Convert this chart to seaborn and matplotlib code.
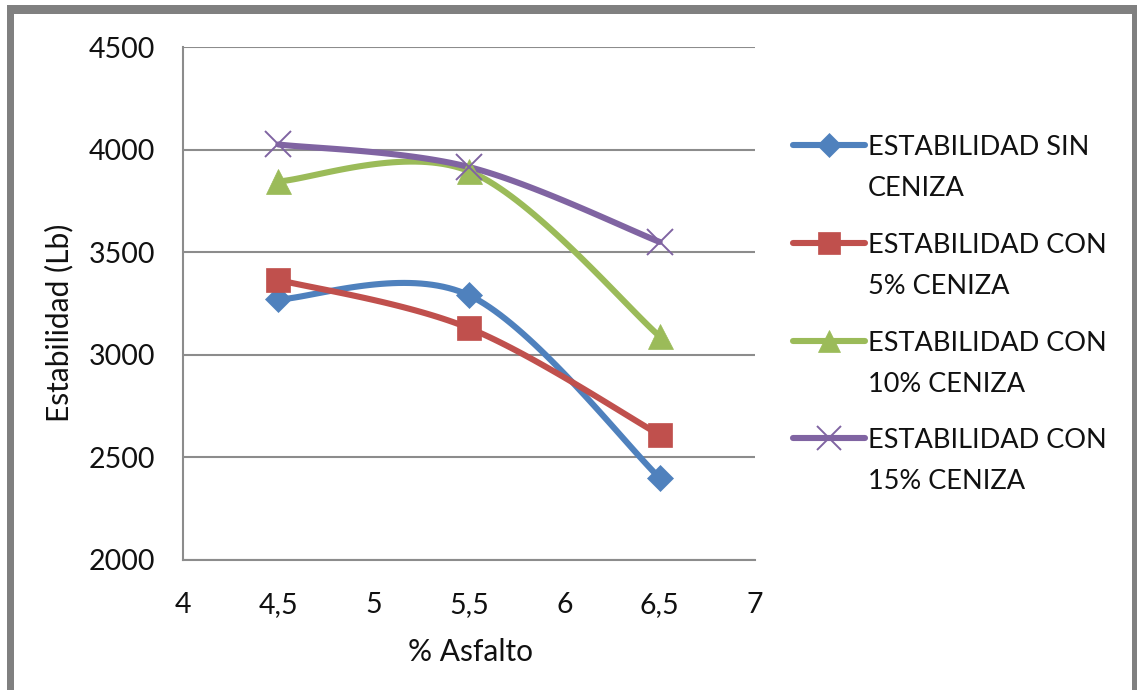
import numpy as np
import pandas as pd
import seaborn as sns
import matplotlib
matplotlib.use("Agg")
import matplotlib.pyplot as plt
from matplotlib.lines import Line2D
from matplotlib.patches import Rectangle

# Asphalt content (%) and Marshall stability (Lb) per ash content
asfalto = [4.5, 5.5, 6.5]
sin_ceniza = [3270, 3290, 2400]
con_5 = [3365, 3130, 2610]
con_10 = [3845, 3895, 3090]
con_15 = [4025, 3915, 3550]

series_names = ["ESTABILIDAD SIN\nCENIZA", "ESTABILIDAD CON\n5% CENIZA",
                "ESTABILIDAD CON\n10% CENIZA", "ESTABILIDAD CON\n15% CENIZA"]
series_values = [sin_ceniza, con_5, con_10, con_15]
colors = ["#4F81BD", "#C0504D", "#9BBB59", "#8064A2"]
markers = ["D", "s", "^", "x"]
msizes = [13.5, 17, 18, 19]

x_ticks = [4, 4.5, 5, 5.5, 6, 6.5, 7]
x_ticklabels = ["4", "4,5", "5", "5,5", "6", "6,5", "7"]
y_ticks = [2000, 2500, 3000, 3500, 4000, 4500]


def smooth_curve(xs, ys, n=40):
    """Bezier smoothing through the points (spreadsheet-style smoothed line)."""
    p = np.column_stack([xs, ys]).astype(float)
    out = []
    m = len(p)
    for i in range(m - 1):
        p_prev = p[i - 1] if i > 0 else p[i]
        p_next = p[i + 2] if i + 2 < m else p[i + 1]
        c1 = p[i] + (p[i + 1] - p_prev) / 6.0
        c2 = p[i + 1] - (p_next - p[i]) / 6.0
        t = np.linspace(0, 1, n)[:, None]
        seg = ((1 - t) ** 3) * p[i] + 3 * ((1 - t) ** 2) * t * c1 \
            + 3 * (1 - t) * t ** 2 * c2 + t ** 3 * p[i + 1]
        out.append(seg if i == 0 else seg[1:])
    out = np.vstack(out)
    return out[:, 0], out[:, 1]


sns.set_theme(style="white")
plt.rcParams["font.family"] = ["Lato", "DejaVu Sans"]

FS = 20.5
LEG_FS = 19.5
TXT = "#111111"
LW = 4.4

fig = plt.figure(figsize=(11.37, 6.9), dpi=100)
fig.patch.set_facecolor("white")
W, H = 1137.0, 690.0
ax = fig.add_axes([183 / W, 1 - 560 / H, (755 - 183) / W, (560 - 47) / H])

for name, vals, col, mk, ms in zip(series_names, series_values, colors, markers, msizes):
    sx, sy = smooth_curve(asfalto, vals)
    curve = pd.DataFrame({"x": sx, "y": sy})
    sns.lineplot(data=curve, x="x", y="y", ax=ax, color=col, linewidth=LW,
                 sort=False, estimator=None, zorder=3)
    pts = pd.DataFrame({"x": asfalto, "y": vals})
    ax.plot(pts["x"], pts["y"], linestyle="none", marker=mk, markersize=ms,
            color=col, markeredgecolor=col,
            markeredgewidth=1.4 if mk == "x" else 0.5, zorder=4)

ax.set_xlim(4, 7)
ax.set_ylim(2000, 4500)
ax.set_xticks(x_ticks)
ax.set_xticklabels(x_ticklabels)
ax.set_yticks(y_ticks)
ax.tick_params(axis="both", length=0, labelsize=FS, colors=TXT)
ax.tick_params(axis="y", pad=20)
ax.tick_params(axis="x", pad=23)
ax.grid(axis="y", color="#8c8c8c", linewidth=1.5)
ax.grid(axis="x", visible=False)
for s in ["top", "right"]:
    ax.spines[s].set_visible(False)
for s in ["left", "bottom"]:
    ax.spines[s].set_color("#8c8c8c")
    ax.spines[s].set_linewidth(1.5)

ax.set_xlabel("% Asfalto", fontsize=FS + 1, color=TXT)
ax.set_ylabel("Estabilidad (Lb)", fontsize=FS + 1, color=TXT)
ax.xaxis.set_label_coords(0.502, -0.152)
ax.yaxis.set_label_coords(-0.192, 0.462)

# Legend: handle beside the first line of each two-line label
leg_y = [145, 243, 341, 438]
for name, col, mk, ms, yy in zip(series_names, colors, markers, msizes, leg_y):
    yf = 1 - yy / H
    fig.add_artist(Line2D([793 / W, 865 / W], [yf, yf], transform=fig.transFigure,
                          color=col, linewidth=LW, solid_capstyle="round"))
    fig.add_artist(Line2D([829 / W], [yf], transform=fig.transFigure, color=col,
                          marker=mk, markersize=ms * 0.9, markeredgecolor=col,
                          markeredgewidth=1.4 if mk == "x" else 0.5))
    fig.text(868 / W, yf + 10 / H, name, fontsize=LEG_FS, color=TXT, va="top",
             ha="left", linespacing=1.78, transform=fig.transFigure)

# Gray frame around the chart area
frame = "#808080"
fig.add_artist(Rectangle((7 / W, 1 - 14 / H), (1137 - 7) / W, 9 / H,
                         transform=fig.transFigure, color=frame, lw=0))
fig.add_artist(Rectangle((7 / W, 0), 7 / W, 1 - 5 / H,
                         transform=fig.transFigure, color=frame, lw=0))
fig.add_artist(Rectangle((1132 / W, 0), 5 / W, 1 - 5 / H,
                         transform=fig.transFigure, color=frame, lw=0))

fig.savefig("out.png", dpi=100, facecolor="white")
